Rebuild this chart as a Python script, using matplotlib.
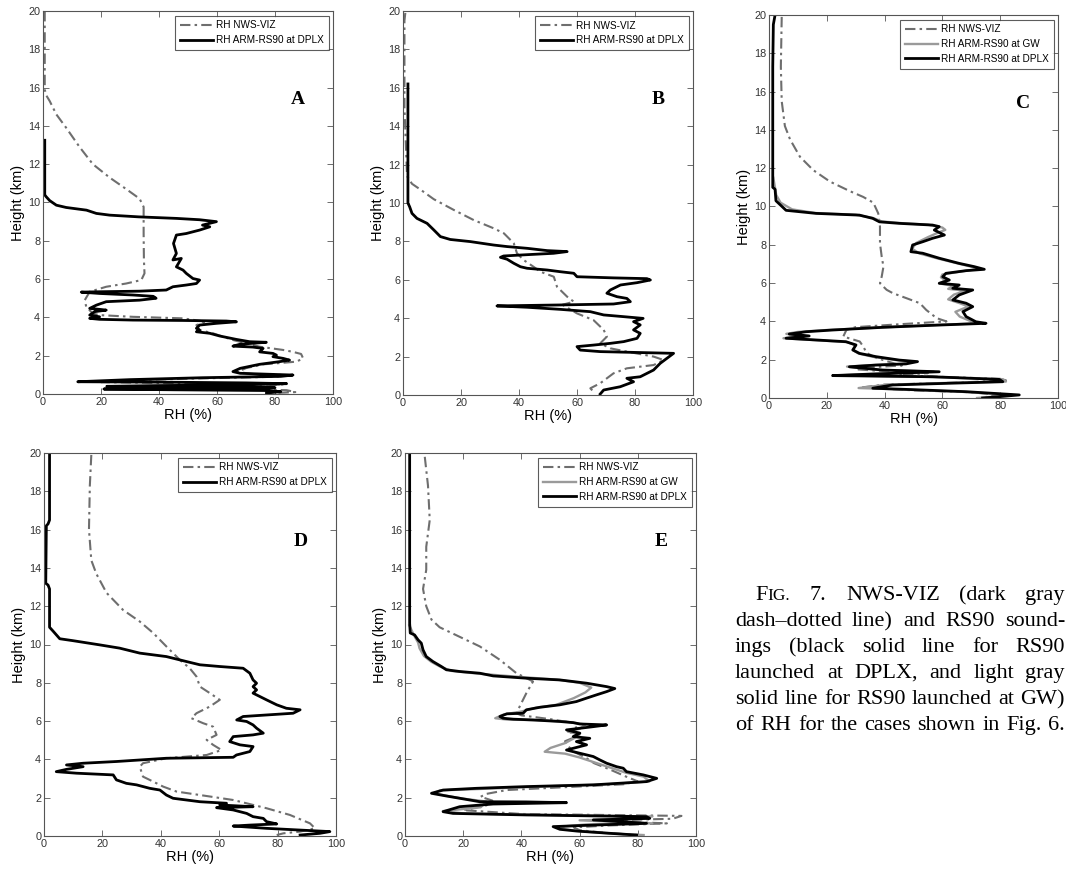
import matplotlib
matplotlib.use("Agg")
import matplotlib.pyplot as plt
import numpy as np

# RH (%) vs height (km) soundings, one list of (rh, km) pairs per trace
a_viz = [(0.6,20),(0.6,15.9),(1.1,15.6),(2.3,15.3),(4.6,14.6),(8,13.9),(12.6,12.9),(17.2,12.0),(23,11.3),
         (28.7,10.7),(33.3,10.2),(34.7,9.77),(34.7,8.38),(34.8,7.0),(35,6.3),(33.9,5.95),(28.7,5.77),
         (21.8,5.6),(16.1,5.34),(14.4,4.9),(14.9,4.56),(17.2,4.2),(19.5,4.12),(31,4.03),(48.3,3.95),
         (56.3,3.77),(52.9,3.6),(54,3.34),(58.6,3.17),(65.5,2.82),(74.7,2.47),(82.8,2.3),(86.2,2.2),
         (89,2.09),(89.7,1.86),(87.4,1.69),(82.8,1.63),(76,1.55),(70,1.35),(67,1.15),(72,1.05),(85,0.98),
         (80,0.9),(50,0.8),(25,0.7),(20,0.62),(55,0.55),(83,0.5),(60,0.45),(30,0.38),(50,0.3),(84,0.2),
         (87,0.1),(80,0.05)]
a_dplx = [(0.6,13.25),(0.6,10.4),(1.1,10.3),(2.3,10.1),(4.6,9.86),(8,9.74),(15,9.6),(18.4,9.43),(23,9.34),
          (33,9.25),(46,9.17),(54,9.1),(59.8,9.0),(55,8.82),(57.5,8.73),(54,8.56),(49.4,8.38),(46,8.3),
          (45,7.86),(46,7.34),(44.8,7.0),(47.7,7.08),(46,6.64),(48.3,6.47),(49.4,6.3),(51.7,6.03),(54,5.95),
          (52.9,5.77),(49.4,5.69),(44.8,5.6),(42.5,5.43),(33.3,5.37),(19.5,5.34),(13.2,5.32),(19.5,5.25),
          (31,5.17),(38,5.1),(39,5.0),(33.3,4.9),(21.8,4.82),(18.4,4.64),(16.1,4.47),(19.5,4.42),(21.8,4.38),
          (17.8,4.3),(16.1,4.12),(19.5,4.03),(16.1,3.95),(19.5,3.9),(31,3.86),(48.3,3.84),(63.2,3.81),
          (66.7,3.77),(59.8,3.69),(54,3.6),(52.9,3.43),(54,3.34),(52.9,3.25),(57.5,3.17),(60.9,3.03),
          (66.7,2.85),(71.3,2.73),(77,2.7),(68,2.6),(65.5,2.5),(72.4,2.45),(75.9,2.38),(74.7,2.2),(79.3,2.12),
          (80.5,2.03),(79.3,1.95),(82.8,1.86),(85,1.77),(81.6,1.69),(74.7,1.55),(68,1.34),(65.5,1.17),
          (68,1.08),(86.2,0.99),(82,0.92),(55,0.85),(30,0.75),(12,0.64),(40,0.62),(70,0.58),(84,0.54),
          (70,0.48),(40,0.44),(22,0.4),(50,0.36),(80,0.33),(60,0.29),(21,0.26),(45,0.22),(78,0.18),
          (82,0.12),(77,0.05),(78,0.0)]

b_viz = [(0.8,19.9),(0.5,19.5),(0.5,15),(1.4,11.4),(3.1,11.0),(6,10.7),(10.6,10.2),(17.5,9.64),(24.4,9.11),
         (31.3,8.68),(34.8,8.42),(38.2,7.9),(39.3,7.38),(41.6,7.03),(45,6.68),(47.4,6.42),(52,6.16),
         (53.1,5.64),(56.6,5.12),(58.9,4.86),(55,4.7),(60,4.25),(65.7,3.9),(69.2,3.39),(70.3,3.04),
         (68,2.69),(71.5,2.43),(77.2,2.26),(86.4,2.0),(89.9,1.82),(86.4,1.56),(77.2,1.39),(72.6,1.13),
         (68,0.61),(64.6,0.35),(65.7,0.17)]
b_dplx = [(1.7,16.2),(1.7,10.0),(2.3,9.8),(3.1,9.46),(4.8,9.2),(8.3,8.94),(10.6,8.6),(12.9,8.25),(16.3,8.1),
          (23.2,7.99),(31.3,7.81),(35.9,7.73),(42.8,7.64),(49.7,7.52),(56.6,7.47),(51.9,7.38),(40.5,7.29),
          (34.7,7.24),(33.6,7.17),(35.9,7.07),(38.2,6.86),(40.5,6.68),(42.8,6.6),(49.7,6.51),(54.3,6.42),
          (58.9,6.34),(60,6.16),(72.6,6.1),(84.1,6.06),(85.3,5.99),(80.7,5.85),(75,5.73),(71.5,5.47),
          (70.3,5.3),(73.8,5.12),(77.2,5.03),(78.4,4.86),(72.6,4.74),(54.3,4.69),(32.4,4.64),(42.8,4.57),
          (54.3,4.46),(64.6,4.34),(69.2,4.17),(76.1,4.08),(82.8,3.99),(79.5,3.82),(81.8,3.65),(79.5,3.39),
          (81.8,3.21),(80.7,2.95),(76.1,2.78),(71.5,2.69),(65.7,2.6),(60,2.52),(61.1,2.34),(68,2.26),
          (93.3,2.17),(91,1.91),(88.7,1.65),(86.4,1.3),(81.8,0.95),(77.2,0.87),(79.5,0.69),(74.9,0.43),
          (69.2,0.26),(68,0.05)]

c_viz = [(4.4,19.9),(4.1,17.3),(4.4,15.5),(5.5,14.2),(7.3,13.5),(10.7,12.6),(15.3,11.9),(21.1,11.3),(28,10.8),
         (32.6,10.5),(36.1,10.2),(37.8,9.64),(38.4,8.95),(38.4,8.08),(39,7.38),(39.6,6.86),(39,6.34),
         (38.4,5.99),(40.7,5.65),(42.9,5.47),(47.6,5.21),(52.2,4.95),(54.4,4.6),(58,4.17),(61.4,4.0),
         (45,3.85),(30,3.7),(26.8,3.56),(25.7,3.21),(31.4,2.95),(32.6,2.69),(33.8,2.35),(37.2,2.09),
         (43,1.82),(46,1.7),(35,1.6),(30,1.5),(40,1.4),(55,1.3),(45,1.2),(60,1.1),(80,1.0),(82,0.92),
         (65,0.8),(40,0.7),(32,0.55),(50,0.4),(70,0.3),(80,0.15),(75,0.05)]
c_gw = [(1.5,11.5),(2.5,10.6),(4,10.2),(8,9.85),(16,9.66),(30,9.57),(36,9.4),(39,9.22),(46,9.13),(55,9.05),
        (60,8.9),(61,8.78),(58,8.6),(55,8.4),(51,8.1),(49.5,7.8),(52,7.55),(58,7.3),(66,7.0),(73,6.75),
        (67,6.62),(60,6.45),(59.5,6.3),(61,6.15),(59,5.98),(64,5.85),(62,5.7),(68,5.6),(64,5.4),(62,5.15),
        (66,4.95),(69,4.78),(64.5,4.5),(66,4.25),(70,4.0),(72,3.9),(56,3.8),(38,3.68),(20,3.55),(10,3.45),
        (6,3.35),(12,3.24),(5,3.12),(15,3.03),(27,2.92),(30,2.75),(29,2.5),(31,2.32),(36,2.15),(44,1.98),
        (50,1.9),(46,1.79),(36,1.72),(27,1.64),(38,1.46),(57,1.38),(33,1.24),(24,1.18),(55,1.1),(81,0.98),
        (82,0.86),(60,0.78),(40,0.68),(31,0.52),(45,0.45),(66,0.33),(84,0.17),(78,0.07),(72,0)]
c_dplx = [(2.1,20),(1.5,19.5),(1.3,17.3),(1.3,11.0),(2.1,10.9),(2.4,10.3),(5.9,9.8),(16.3,9.64),(31.3,9.55),
          (35.9,9.38),(38.2,9.2),(45,9.12),(56.6,9.03),(58.9,8.95),(57.2,8.77),(60.7,8.51),(56.6,8.34),
          (53.2,8.16),(49.7,7.99),(49.1,7.64),(53.2,7.56),(58.9,7.3),(65.8,7.03),(71,6.86),(74.5,6.72),
          (68.2,6.65),(61.2,6.51),(60.1,6.33),(62.4,6.16),(58.9,5.99),(65.8,5.9),(63.6,5.73),(70.5,5.64),
          (65.8,5.38),(63.6,5.12),(68.2,4.95),(70.5,4.77),(67.1,4.51),(68.2,4.25),(71.6,3.98),(75.1,3.9),
          (58.9,3.81),(39.3,3.69),(22,3.55),(12.8,3.46),(7,3.34),(13.9,3.24),(5.9,3.12),(16.3,3.03),
          (26.6,2.94),(30.1,2.77),(29,2.51),(31.3,2.33),(37,2.16),(45.1,1.98),(51.4,1.9),(47.4,1.78),
          (37,1.72),(27.8,1.63),(39.3,1.46),(58.9,1.37),(33.6,1.24),(22,1.17),(56.6,1.11),(79.7,0.97),
          (80.9,0.85),(62.4,0.77),(42.8,0.68),(35.9,0.51),(47.4,0.45),(68.2,0.33),(86.6,0.16),(79.7,0.07),
          (73.9,0.0)]

d_viz = [(16.2,19.9),(15.7,18.3),(15.4,16.0),(16.2,14.4),(17.9,13.7),(21.4,12.7),(27.1,11.8),(32.8,11.2),
         (37.4,10.6),(41.9,9.9),(46.5,9.2),(49.9,8.76),(52.2,8.33),(53.4,7.8),(56.8,7.46),(60.2,7.11),
         (56.8,6.76),(52.2,6.41),(50.5,6.15),(54.5,5.89),(57.9,5.71),(59.1,5.28),(55.7,5.02),(57.9,4.76),
         (60.8,4.49),(55.7,4.23),(41.9,4.06),(33.9,3.8),(32.8,3.62),(33.9,3.1),(37.4,2.84),(40.8,2.58),
         (45.4,2.32),(53.4,2.14),(64.8,1.88),(76.2,1.45),(84.2,1.1),(91.1,0.66),(92.8,0.4),(87.7,0.23),
         (82,0.14),(79.7,0.05)]
d_dplx = [(1.9,20),(1.9,16.5),(1.4,16.3),(0.8,16.2),(0.6,13.2),(1.4,13.1),(1.9,12.9),(1.9,10.9),(3.1,10.7),
          (5.4,10.3),(9.9,10.2),(19.1,9.98),(25.9,9.81),(32.8,9.55),(41.9,9.37),(48.8,9.11),(53.4,8.94),
          (60.2,8.85),(68.2,8.76),(70.5,8.5),(71.6,8.15),(72.8,7.98),(71.6,7.8),(72.8,7.63),(71.6,7.46),
          (76.2,7.11),(79.7,6.85),(83,6.67),(87.7,6.59),(85.3,6.41),(76.2,6.32),(68.2,6.24),(66,6.06),
          (69.4,5.98),(71.6,5.8),(72.8,5.63),(75.1,5.37),(71.6,5.28),(64.8,5.19),(63.6,4.93),(67.1,4.76),
          (71.6,4.67),(70.5,4.41),(65.9,4.23),(64.8,4.11),(41.9,4.06),(24.8,3.89),(13.4,3.8),(7.7,3.71),
          (13.4,3.62),(7.7,3.48),(4.2,3.36),(11.1,3.28),(23.7,3.19),(24.8,2.93),(28.2,2.75),(31.7,2.67),
          (36.2,2.49),(39.7,2.4),(41.9,2.14),(44.2,1.97),(48.8,1.88),(53.4,1.79),(62.5,1.71),(60.2,1.62),
          (71.6,1.53),(59.1,1.48),(64.8,1.36),(69.4,1.18),(71.6,1.01),(75.1,0.92),(76.2,0.75),(79.7,0.63),
          (70.5,0.57),(64.8,0.52),(76.2,0.4),(87.7,0.31),(97.9,0.23),(94.5,0.14),(87.7,0.05)]

e_viz = [(6.8,19.8),(7.9,18.3),(8.5,16.5),(7.3,15.1),(7.3,13.9),(6.2,12.9),(7.3,12.0),(9.1,11.3),(11.9,10.9),
         (18.8,10.4),(25.7,9.9),(32.6,9.2),(38.3,8.5),(44,8.07),(41.7,7.46),(39.4,6.76),(38.3,6.41),
         (40,6.3),(50,6.1),(58,5.9),(59,5.6),(57,5.4),(59,5.2),(55,4.95),(56,4.7),(58,4.4),(62,4.1),
         (65,3.8),(70,3.5),(76,3.1),(80,2.85),(75,2.7),(55,2.55),(35,2.4),(28,2.2),(26,2.05),(30,1.85),
         (28,1.6),(20,1.35),(40,1.15),(95,1.05),(92,0.9),(65,0.8),(90,0.66),(70,0.55),(58,0.45),(60,0.3),
         (70,0.15),(80,0.05)]
e_gw = [(1.5,11),(3,10.5),(4.5,10.1),(5,9.8),(6.5,9.4),(9,9.1),(12,8.85),(16,8.62),(25,8.48),(40,8.3),
        (52,8.17),(60,8.0),(64,7.75),(62,7.5),(58,7.2),(52,6.85),(45,6.7),(40,6.5),(34,6.35),(31,6.15),
        (35,6.08),(45,6.05),(55,5.98),(62,5.82),(60,5.6),(56,5.45),(60,5.3),(58,5.1),(55,4.85),(50,4.6),
        (48,4.4),(55,4.3),(60,4.1),(64,3.9),(68,3.7),(72,3.5),(76,3.3),(82,3.1),(84,2.85),(70,2.7),(50,2.6),
        (30,2.48),(12,2.38),(10,2.23),(15,2.08),(20,1.95),(28,1.8),(26,1.5),(13,1.3),(20,1.18),(50,1.1),
        (85,1.02),(80,0.9),(60,0.82),(85,0.66),(62,0.6),(53,0.48),(55,0.35),(60,0.25),(72,0.12),(82,0.05)]
e_dplx = [(1.6,20),(1.6,11.1),(1.8,10.6),(3.3,10.5),(4.5,10.24),(5.6,10.07),(6.2,9.72),(7.3,9.37),(9.6,9.11),
          (12.5,8.85),(14.2,8.68),(18.8,8.59),(25.7,8.5),(30.3,8.36),(41.7,8.24),(53.2,8.15),(62.4,7.98),
          (69.3,7.8),(72.1,7.7),(69.3,7.54),(65.8,7.37),(62.4,7.2),(58.9,7.02),(53.2,6.85),(46.3,6.72),
          (41.7,6.59),(40.6,6.41),(35,6.38),(32.6,6.24),(33.7,6.15),(37.2,6.1),(44,6.06),(53.2,5.98),
          (57.8,5.92),(60.1,5.85),(69.3,5.8),(64.7,5.71),(55.5,5.54),(60.1,5.37),(57.8,5.19),(63.5,5.1),
          (58.9,4.93),(62.4,4.76),(57.8,4.58),(55.5,4.49),(60.1,4.32),(64.7,4.15),(67,3.97),(69.3,3.8),
          (72.7,3.62),(75,3.54),(76.1,3.36),(81.9,3.19),(86.5,3.01),(83,2.84),(64.7,2.67),(41.7,2.58),
          (24.5,2.49),(13.1,2.4),(9.1,2.23),(14.2,2.09),(18.8,1.97),(25.7,1.79),(41.7,1.78),(55.5,1.74),
          (30.3,1.67),(18.8,1.53),(13.1,1.27),(16.5,1.18),(41.7,1.1),(83,1.01),(84.1,0.92),(64.7,0.84),
          (83,0.66),(64.7,0.57),(50.9,0.49),(53.2,0.35),(58.9,0.26),(70.4,0.14),(79.6,0.05)]

panel_letters = ["A", "B", "C", "D", "E"]
label_viz = "RH NWS-VIZ"
label_gw = "RH ARM-RS90 at GW"
label_dplx = "RH ARM-RS90 at DPLX"

caption = [
    "7. NWS-VIZ (dark gray",
    "dash\u2013dotted line) and RS90 sound-",
    "ings (black solid line for RS90",
    "launched at DPLX, and light gray",
    "solid line for RS90 launched at GW)",
    "of RH for the cases shown in Fig. 6.",
]

W, H = 1066, 869
fig = plt.figure(figsize=(W / 100, H / 100), dpi=100)
fig.patch.set_facecolor("white")
plt.rcParams["font.family"] = ["Liberation Sans", "DejaVu Sans"]

# axes boxes in pixels: left, top, right, bottom
boxes = [(43, 11, 333, 394), (403, 11, 693, 395), (769, 15, 1058, 398),
         (44, 453, 336, 836), (405, 453, 696, 836)]
traces = [(a_viz, None, a_dplx), (b_viz, None, b_dplx), (c_viz, c_gw, c_dplx),
          (d_viz, None, d_dplx), (e_viz, e_gw, e_dplx)]

for (l, t, r, b), (viz, gw, dplx), letter in zip(boxes, traces, panel_letters):
    ax = fig.add_axes([l / W, 1 - b / H, (r - l) / W, (b - t) / H])
    v = np.array(viz)
    ax.plot(v[:, 0], v[:, 1], color="#6e6e6e", lw=1.5, ls=(0, (5, 2, 1.2, 2)), label=label_viz)
    if gw is not None:
        g = np.array(gw)
        ax.plot(g[:, 0], g[:, 1], color="#9a9a9a", lw=1.7, label=label_gw)
    d = np.array(dplx)
    ax.plot(d[:, 0], d[:, 1], color="black", lw=2.0, label=label_dplx)

    ax.set_xlim(0, 100)
    ax.set_ylim(0, 20)
    ax.set_xticks(np.arange(0, 101, 20))
    ax.set_yticks(np.arange(0, 21, 2))
    ax.tick_params(direction="in", top=True, right=True, length=4, width=0.6,
                   labelsize=7.8, labelcolor="#333333", color="#555555", pad=2)
    for s in ax.spines.values():
        s.set_color("#555555")
        s.set_linewidth(0.8)
    ax.set_xlabel("RH (%)", fontsize=10.5, labelpad=1)
    ax.set_ylabel("Height (km)", fontsize=10.5, labelpad=2)
    leg = ax.legend(loc="upper right", fontsize=7.2, handlelength=3.3, handletextpad=0.3,
                    borderpad=0.5, labelspacing=0.45, borderaxespad=0.45, fancybox=False)
    leg.get_frame().set_edgecolor("#333333")
    leg.get_frame().set_linewidth(0.8)
    ax.text(88, 15.4, letter, fontsize=14, fontweight="bold", family="Liberation Serif",
            ha="center", va="center")

# caption, justified line by line
renderer = fig.canvas.get_renderer()
cap_size = 16
x_left, x_right = 735, 1065
baselines = [600, 626, 652, 678, 704, 730]


def place_words(words, x0, x1, ybase):
    arts = []
    for pieces in words:
        row = [fig.text(0, 1 - ybase / H, s, fontsize=fs, family="Liberation Serif", va="baseline")
               for s, fs in pieces]
        arts.append(row)
    widths = [sum(p.get_window_extent(renderer).width for p in row) for row in arts]
    gap = (x1 - x0 - sum(widths)) / (len(arts) - 1)
    x = x0
    for row, w in zip(arts, widths):
        for p in row:
            p.set_x(x / W)
            x += p.get_window_extent(renderer).width
        x += gap


for i, (line, yb) in enumerate(zip(caption, baselines)):
    words = [[(w, cap_size)] for w in line.split(" ")]
    x0 = x_left
    if i == 0:
        # small-caps "Fig."
        words = [[("F", cap_size), ("IG.", cap_size * 0.78)]] + words
        x0 = 755
    place_words(words, x0, x_right, yb)

fig.savefig("out.png", dpi=100, facecolor="white")
